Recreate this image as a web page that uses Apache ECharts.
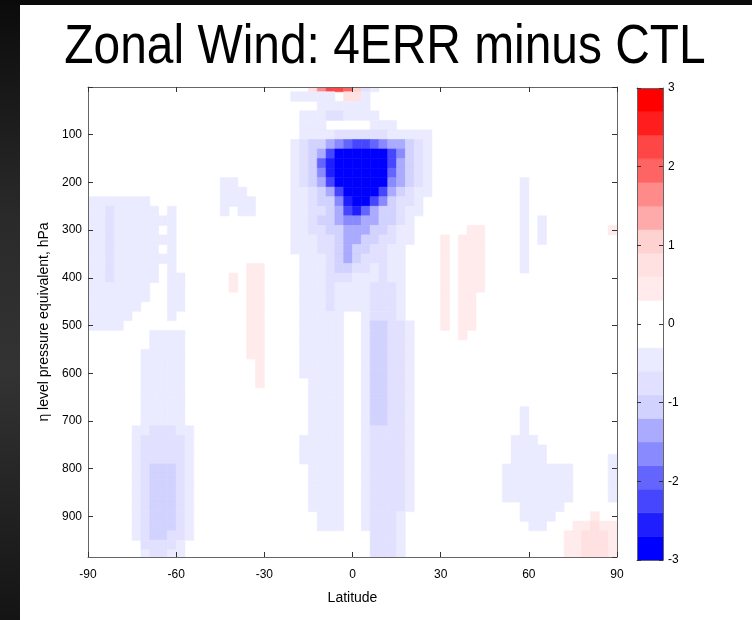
<!DOCTYPE html>
<html><head><meta charset="utf-8">
<script src="https://cdn.jsdelivr.net/npm/echarts@6/dist/echarts.min.js"></script>
<style>html,body{margin:0;padding:0;background:#fff}#c{width:752px;height:620px}</style>
</head><body><div id="c"></div>
<script>
// ---- data ----
const titleText = 'Zonal Wind: 4ERR minus CTL';
const xName = 'Latitude';
const yName = '\u03b7 level pressure equivalent, hPa';
const latEdges = [-90,-87,-84,-81,-78,-75,-72,-69,-66,-63,-60,-57,-54,-51,-48,-45,-42,-39,-36,-33,-30,-27,-24,-21,-18,-15,-12,-9,-6,-3,0,3,6,9,12,15,18,21,24,27,30,33,36,39,42,45,48,51,54,57,60,63,66,69,72,75,78,81,84,87,90];
const pressureEdges = [0,10,30,50,70,90,110,130,150,170,190,210,230,250,270,290,310,330,350,370,390,410,430,450,470,490,510,530,550,570,590,610,630,650,670,690,710,730,750,770,790,810,830,850,870,890,910,930,950,970,990];
// band codes (contour band of each cell)
const codeValues = {a:-0.45,b:-0.75,c:-1.05,d:-1.35,e:-1.65,f:-1.95,g:-2.25,h:-2.55,i:-2.85,
                    A:0.45,B:0.75,C:1.05,D:1.35,E:1.65,F:1.95,G:2.25,H:2.55,I:2.85};
const fieldRows = [
".......... .......... .....BEGGF Cba....... .......... ..........",
".......... .......... ...aaaaa.B Ba........ .......... ..........",
".......... .......... ......aaaa aa........ .......... ..........",
".......... .......... ....aaabba aaa....... .......... ..........",
".......... .......... ....aaa... ..aaa..... .......... ..........",
".......... .......... ....aaaabb bbbbaaaaa. .......... ..........",
".......... .......... ...abccdef ggfeddcba. .......... ..........",
".......... .......... ...abcdgii iiiigecba. .......... ..........",
".......... .......... ...abcfhii iiiigdcba. .......... ..........",
".......... .......... ...abcehii iiiifdcba. .......... ..........",
".......... .....aa... ...abcdgii iiiiedcba. .........a ..........",
".......... .....aaa.. ...aabcdgi iiigdcbaa. .........a ..........",
"aaaaaaa... .....aaaa. ...aabcceh iigecbba.. .........a ..........",
"aabaaaaa.a .....a.aa. ...aabbcdg hfdccbaa.. .........a ..........",
"aabaaaaaaa .......... ...aabccde eddccba... .........a .a........",
"aabaaaaa.a .......... ...aabbccd ddccbaa... ...AA....a .a.......A",
"aabaaaaaaa .......... ...aaabbcd dccbbaa... A.AAA....a .a........",
"aabaaaaa.a .......... ...aaabbcd ccbbaa.... A.AAA....a ..........",
"aabaaaaaaa .......... ....aaabcd cbbbaa.... A.AAA....a ..........",
"aabaaaaa.a ........AA ....aaabcc bbabaa.... A.AAA....a ..........",
"aabaaaaa.a a.....A.AA ....aaabbb aaabaa.... A.AAA..... ..........",
"aaaaaaa..a a.....A.AA ....aaabaa aabbba.... A.AAA..... ..........",
"aaaaaaa..a a.......AA ....aaabaa aabbba.... A.AA...... ..........",
"aaaaaa...a a.......AA ....aaabaa aabbba.... A.AA...... ..........",
"aaaaa....a ........AA ....aaaaa. .abbba.... A.AA...... ..........",
"aaaa...... ........AA ....aaaaa. .accbba... A.AA...... ..........",
".......aaa a.......AA ....aaaaa. .accbba... ..A....... ..........",
".......aaa a.......AA ....aaaaa. .accbba... .......... ..........",
"......aaaa a.......AA ....aaaaa. .accbba... .......... ..........",
"......aaaa a........A ....aaaaa. .accbba... .......... ..........",
"......aaaa a........A ....aaaaa. .accbba... .......... ..........",
"......aaaa a........A .....aaaa. .accbba... .......... ..........",
"......aaaa a......... .....aaaa. .accbba... .......... ..........",
"......aaaa a......... .....aaaa. .accbba... .......... ..........",
"......aaaa a......... .....aaaa. .accbba... .........a ..........",
"......aaaa a......... .....aaaa. .accbba... .........a ..........",
".....aabbb aa........ .....aaaa. .abbbba... .........a ..........",
".....abbbb ba........ ....aaaaa. .abbbba... ........aa a.........",
".....abbbb ba........ ....aaaaa. .abbbba... ........aa aa........",
".....abbbb ba........ ....aaaaa. .abbbba... ........aa aa.......a",
".....abccc ba........ .....aaaa. .abbbba... .......aaa aaaaa....a",
".....abccc ba........ .....aaaa. .abbbba... .......aaa aaaaa....a",
".....abccc ba........ .....aaaa. .abbbba... .......aaa aaaaa....a",
".....abccc ba........ .....aaaa. .abbbba... .......aaa aaaaa....a",
".....abccc ba........ .....aaaa. .abbbba... .........a aaaa......",
".....abccc ba........ ......aaa. .abbba.... .........a aaa....A..",
".....abccc ba........ ......aaa. .abbba.... .......... aa...AABAA",
".....abccb ba........ .......... ..bbba.... .......... ....AABBBA",
"......bbbb a......... .......... ..bbba.... .......... ....AABBBA",
"......abba a......... .......... ..bbba.... .......... ....AABBBA"
];
const colorLevels = [-3,-2.7,-2.4,-2.1,-1.8,-1.5,-1.2,-0.9,-0.6,-0.3,0,0.3,0.6,0.9,1.2,1.5,1.8,2.1,2.4,2.7,3];
const levelColors = ['#0000ff','#1e1eff','#4646ff','#6464ff','#8a8aff','#aaaaff','#d2d2ff','#e1e1ff','#ebebff','#ffffff',
                     '#ffffff','#ffebeb','#ffe1e1','#ffd2d2','#ffaaaa','#ff8a8a','#ff6464','#ff4646','#ff1e1e','#ff0000'];
const latTickStep = 30;
const pTickStep = 100;
const pBottom = 985;
const cbarTickStep = 1;

// ---- build ----
const cells = [];
fieldRows.forEach((row, k) => {
  const s = row.replace(/ /g, '');
  for (let i = 0; i < s.length; i++) {
    const c = s[i];
    if (c === '.') continue;
    cells.push([latEdges[i], latEdges[i + 1], pressureEdges[k], pressureEdges[k + 1], codeValues[c]]);
  }
});
const cbarCells = [];
for (let j = 0; j < colorLevels.length - 1; j++) {
  cbarCells.push([0, 1, colorLevels[j], colorLevels[j + 1], (colorLevels[j] + colorLevels[j + 1]) / 2]);
}
const pieces = levelColors.map((col, j) => ({gte: colorLevels[j], lt: colorLevels[j + 1], color: col}));

function cellRender(params, api) {
  const a = api.coord([api.value(0), api.value(2)]);
  const b = api.coord([api.value(1), api.value(3)]);
  const color = api.visual('color');
  return {
    type: 'rect',
    shape: {x: Math.min(a[0], b[0]), y: Math.min(a[1], b[1]), width: Math.abs(b[0] - a[0]), height: Math.abs(b[1] - a[1])},
    style: {fill: color, stroke: color, lineWidth: 0.6}
  };
}

const FONT = '"Liberation Sans", Arial, sans-serif';
const lineCol = '#666';
const tickCol = '#333';
const lbl = {color: '#000', fontSize: 12, fontFamily: FONT};
function frameAxis(extra) {
  return Object.assign({
    type: 'value', z: 10, splitLine: {show: false},
    axisLine: {show: true, onZero: false, lineStyle: {color: lineCol}},
    axisTick: {show: true, inside: true, length: 5, lineStyle: {color: tickCol}},
    axisLabel: {show: false}
  }, extra);
}

const chart = echarts.init(document.getElementById('c'), null, {renderer: 'canvas'});
chart.setOption({
  backgroundColor: '#fff',
  animation: false,
  graphic: [
    {type: 'rect', z: 0, shape: {x: 0, y: 0, width: 20, height: 620},
     style: {fill: new echarts.graphic.LinearGradient(0, 0, 0, 1, [
       {offset: 0, color: '#0b0b0b'}, {offset: 0.35, color: '#2a2a2a'}, {offset: 0.6, color: '#333'}, {offset: 1, color: '#141414'}])}},
    {type: 'rect', z: 0, shape: {x: 0, y: 0, width: 752, height: 5}, style: {fill: '#0b0b0b'}},
    {type: 'text', z: 5, x: 385, y: 48, scaleX: 0.855,
     style: {text: titleText, font: '56px ' + FONT, fill: '#000', textAlign: 'center', textVerticalAlign: 'middle', align: 'center', verticalAlign: 'middle'}}
  ],
  grid: [
    {left: 88, top: 87, width: 529, height: 470},
    {left: 637, top: 88, width: 26, height: 472}
  ],
  visualMap: {type: 'piecewise', show: false, dimension: 4, seriesIndex: [0, 1], pieces: pieces},
  xAxis: [
    frameAxis({gridIndex: 0, min: -90, max: 90, interval: latTickStep, position: 'bottom',
      axisLabel: Object.assign({show: true, margin: 12}, lbl),
      name: xName, nameLocation: 'middle', nameGap: 34, nameTextStyle: {color: '#000', fontSize: 14, fontFamily: FONT}}),
    frameAxis({gridIndex: 0, min: -90, max: 90, interval: latTickStep, position: 'top'}),
    frameAxis({gridIndex: 1, min: 0, max: 1, position: 'bottom', axisTick: {show: false}}),
    frameAxis({gridIndex: 1, min: 0, max: 1, position: 'top', axisTick: {show: false}})
  ],
  yAxis: [
    frameAxis({gridIndex: 0, inverse: true, min: 0, max: pBottom, interval: pTickStep, position: 'left',
      axisLabel: Object.assign({show: true, margin: 6, showMaxLabel: false, formatter: v => (v > 0 && v % pTickStep === 0) ? String(v) : ''}, lbl),
      name: yName, nameLocation: 'middle', nameGap: 30, nameTextStyle: {color: '#000', fontSize: 14, fontFamily: FONT}}),
    frameAxis({gridIndex: 0, inverse: true, min: 0, max: pBottom, interval: pTickStep, position: 'right'}),
    frameAxis({gridIndex: 1, min: -3, max: 3, interval: cbarTickStep, position: 'left',
      axisTick: {show: true, inside: true, length: 4, lineStyle: {color: tickCol}}}),
    frameAxis({gridIndex: 1, min: -3, max: 3, interval: cbarTickStep, position: 'right',
      axisTick: {show: true, inside: true, length: 4, lineStyle: {color: tickCol}},
      axisLabel: Object.assign({show: true, margin: 5}, lbl)})
  ],
  series: [
    {type: 'custom', xAxisIndex: 0, yAxisIndex: 0, clip: true, renderItem: cellRender,
     dimensions: ['lat0', 'lat1', 'p0', 'p1', 'value'], encode: {x: [0, 1], y: [2, 3]}, data: cells},
    {type: 'custom', xAxisIndex: 2, yAxisIndex: 2, clip: true, renderItem: cellRender,
     dimensions: ['x0', 'x1', 'v0', 'v1', 'value'], encode: {x: [0, 1], y: [2, 3]}, data: cbarCells}
  ]
});
</script></body></html>
